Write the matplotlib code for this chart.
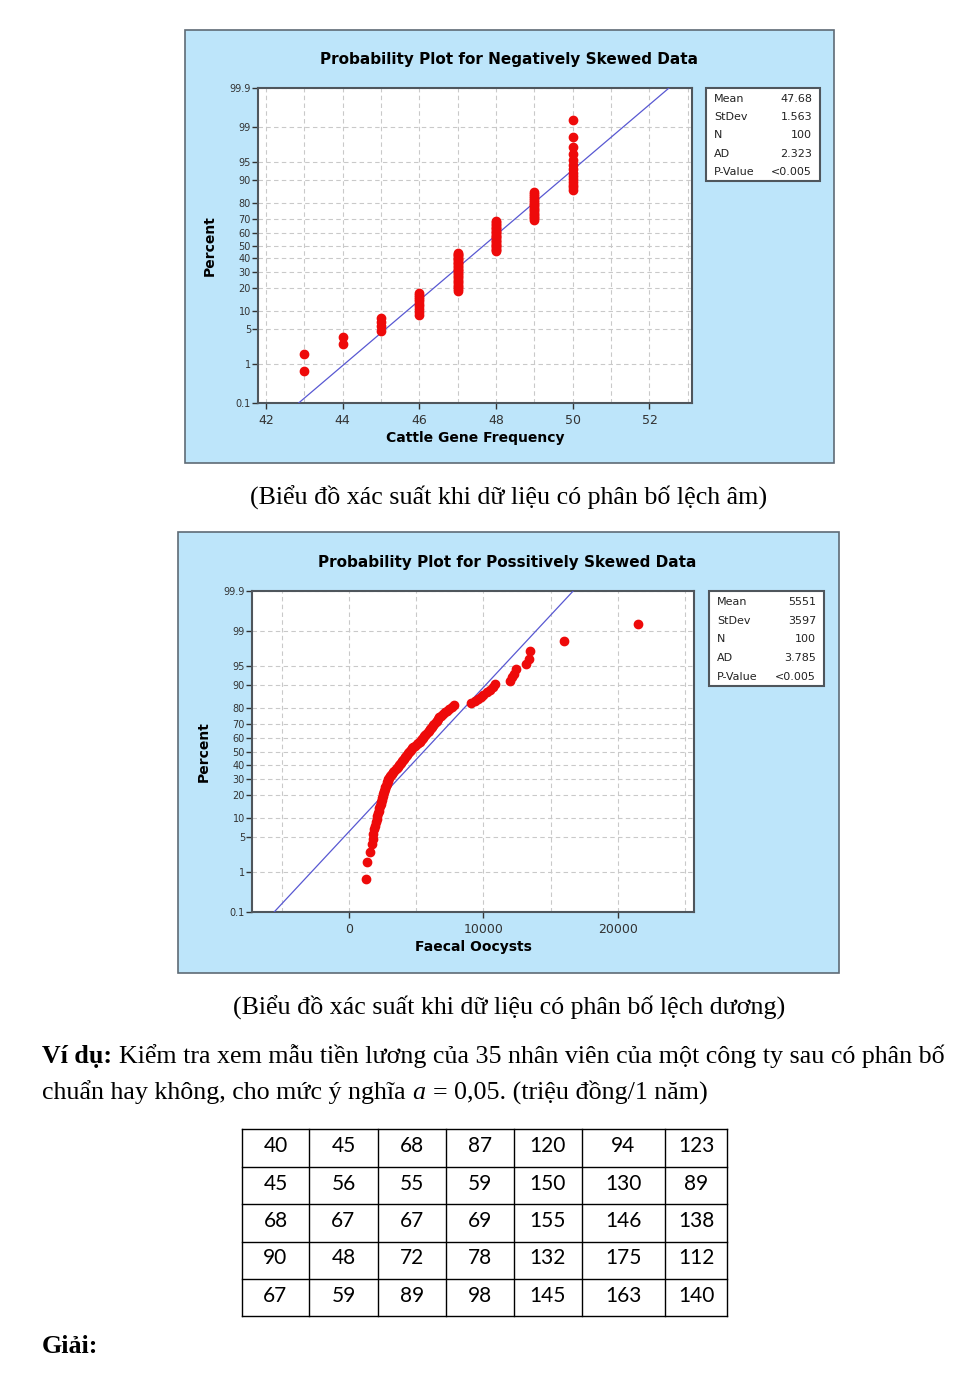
import matplotlib
matplotlib.use("Agg")
import matplotlib.pyplot as plt
import numpy as np
from statistics import NormalDist
from matplotlib.patches import Rectangle
from matplotlib.ticker import FixedLocator, MultipleLocator

# ---- data ----
neg_values = [43, 44, 45, 46, 47, 48, 49, 50]
neg_counts = [2, 2, 4, 10, 27, 24, 17, 14]
neg_mean, neg_sd = 47.68, 1.563

pos_values = [
    1240, 1360, 1590, 1690, 1750, 1810, 1870, 1940, 2010, 2070,
    2110, 2160, 2210, 2260, 2310, 2350, 2390, 2430, 2460, 2500,
    2540, 2570, 2610, 2650, 2690, 2740, 2790, 2840, 2890, 2935,
    2990, 3040, 3090, 3180, 3280, 3380, 3460, 3540, 3630, 3710,
    3790, 3870, 3960, 4040, 4110, 4180, 4250, 4320, 4390, 4450,
    4520, 4590, 4660, 4780, 4900, 5030, 5150, 5270, 5350, 5430,
    5510, 5590, 5670, 5750, 5840, 5930, 6020, 6100, 6180, 6260,
    6350, 6440, 6530, 6620, 6720, 6820, 7000, 7150, 7300, 7450,
    7650, 7800, 9100, 9400, 9600, 9800, 10000, 10250, 10450, 10700,
    10850, 12000, 12100, 12300, 12420, 13150, 13350, 13480, 16010, 21490]
pos_mean, pos_sd = 5551, 3597

stat_names = ["Mean", "StDev", "N", "AD", "P-Value"]
neg_stats = ["47.68", "1.563", "100", "2.323", "<0.005"]
pos_stats = ["5551", "3597", "100", "3.785", "<0.005"]

pct_ticks = [0.1, 1, 5, 10, 20, 30, 40, 50, 60, 70, 80, 90, 95, 99, 99.9]
pct_labels = ["0.1", "1", "5", "10", "20", "30", "40", "50", "60", "70", "80", "90", "95", "99", "99.9"]

table_rows = [
    [40, 45, 68, 87, 120, 94, 123],
    [45, 56, 55, 59, 150, 130, 89],
    [68, 67, 67, 69, 155, 146, 138],
    [90, 48, 72, 78, 132, 175, 112],
    [67, 59, 89, 98, 145, 163, 140],
]

caption1 = "(Biểu đồ xác suất khi dữ liệu có phân bố lệch âm)"
caption2 = "(Biểu đồ xác suất khi dữ liệu có phân bố lệch dương)"

W, H = 970, 1374
PANEL = "#bde5fa"
RED = "#ee0a0a"
LINE = "#5858d2"

nd = NormalDist()
_ppf = np.vectorize(nd.inv_cdf, otypes=[float])
_cdf = np.vectorize(nd.cdf, otypes=[float])


def fwd(p):
    p = np.clip(np.asarray(p, dtype=float) / 100.0, 1e-7, 1 - 1e-7)
    return _ppf(p)


def inv(z):
    return _cdf(np.asarray(z, dtype=float)) * 100.0


fig = plt.figure(figsize=(W / 100, H / 100), dpi=100)

# page layer in pixel coordinates
page = fig.add_axes([0, 0, 1, 1], zorder=0)
page.set_xlim(0, W)
page.set_ylim(H, 0)
page.axis("off")


def prob_plot(rect, panel, data, mean, sd, title, title_x, xlabel, stats, box,
              xlim, major, minor, xticklabels):
    px0, py0, px1, py1 = panel
    page.add_patch(Rectangle((px0, py0), px1 - px0, py1 - py0, facecolor=PANEL,
                             edgecolor="#5f6b75", lw=1.2))
    l, t, r, b = rect
    ax = fig.add_axes([l / W, 1 - b / H, (r - l) / W, (b - t) / H], zorder=2)
    ax.set_yscale("function", functions=(fwd, inv))
    ax.set_ylim(0.1, 99.9)
    ax.set_xlim(*xlim)

    data = np.sort(np.asarray(data, dtype=float))
    n = len(data)
    ranks = (np.arange(1, n + 1) - 0.3) / (n + 0.4) * 100
    ax.plot(data, ranks, "o", color=RED, markersize=6, mec=RED, zorder=4, clip_on=False)

    # fitted normal line from the mean / stdev in the box
    p_line = np.array([0.1, 99.9])
    ax.plot(mean + sd * fwd(p_line), p_line, color=LINE, lw=0.9, zorder=3)

    ax.yaxis.set_major_locator(FixedLocator(pct_ticks))
    ax.set_yticklabels(pct_labels)
    ax.yaxis.set_minor_locator(FixedLocator([]))
    ax.xaxis.set_major_locator(FixedLocator(major))
    ax.set_xticklabels(xticklabels)
    ax.xaxis.set_minor_locator(MultipleLocator(minor))
    ax.tick_params(axis="y", which="major", length=4, width=1, pad=1,
                   labelsize=7, colors="#333333")
    ax.tick_params(axis="x", which="major", length=4, width=1, pad=4,
                   labelsize=9, colors="#333333")
    ax.tick_params(axis="x", which="minor", length=0)
    ax.grid(True, axis="x", which="both", ls=(0, (4, 3)), color="#c9c9c9", lw=0.8)
    ax.grid(True, axis="y", which="major", ls=(0, (4, 3)), color="#c9c9c9", lw=0.8)
    for s in ax.spines.values():
        s.set_color("#4f565c")
        s.set_linewidth(1.5)

    ax.set_title(title, fontsize=11, fontweight="bold", x=title_x, pad=17)
    ax.set_ylabel("Percent", fontsize=10, fontweight="bold")
    ax.yaxis.set_label_coords(-41 / (r - l), 0.5)
    ax.set_xlabel(xlabel, fontsize=10, fontweight="bold")
    ax.xaxis.set_label_coords(0.5, -28 / (b - t))

    bx0, by0, bx1, by1 = box
    page.add_patch(Rectangle((bx0, by0), bx1 - bx0, by1 - by0, facecolor="white",
                             edgecolor="#4f565c", lw=1.5))
    step = (by1 - by0 - 20) / 4
    for k, (nm, val) in enumerate(zip(stat_names, stats)):
        yy = by0 + 11 + k * step
        page.text(bx0 + 8, yy, nm, fontsize=8, va="center", ha="left", color="#222222")
        page.text(bx1 - 8, yy, val, fontsize=8, va="center", ha="right", color="#222222")
    return ax


ax1 = prob_plot((258, 88, 692, 403), (185, 30, 834, 463),
                np.repeat(neg_values, neg_counts), neg_mean, neg_sd,
                "Probability Plot for Negatively Skewed Data", (509 - 258) / 434,
                "Cattle Gene Frequency", neg_stats, (706, 88, 820, 181),
                (41.79, 53.11), [42, 44, 46, 48, 50, 52], 1,
                ["42", "44", "46", "48", "50", "52"])

ax2 = prob_plot((252, 591, 694, 912), (178, 532, 839, 973),
                pos_values, pos_mean, pos_sd,
                "Probability Plot for Possitively Skewed Data", (507 - 252) / 442,
                "Faecal Oocysts", pos_stats, (709, 591, 824, 686),
                (-7212, 25651), [0, 10000, 20000], 5000,
                ["0", "10000", "20000"])

serif = "Liberation Serif"
FS = 18.7
page.text(509, 498, caption1, fontsize=FS, family=serif, ha="center", va="center")
page.text(509, 1008, caption2, fontsize=FS, family=serif, ha="center", va="center")

# paragraph with mixed styles
renderer = fig.canvas.get_renderer()


def put_runs(x, y, parts, size=FS, gap=6.5):
    for txt, kw in parts:
        t = page.text(x, y, txt, fontsize=size, family=serif, va="baseline", **kw)
        x += t.get_window_extent(renderer=renderer).width + gap
    return x


put_runs(42, 1063, [("Ví dụ:", {"fontweight": "bold"}),
                    ("Kiểm tra xem mẫu tiền lương của 35 nhân viên của một công ty sau có phân bố", {})])
put_runs(42, 1099, [("chuẩn hay không, cho mức ý nghĩa", {}),
                    ("a", {"style": "italic"}),
                    ("=", {}),
                    ("0,05. (triệu đồng/1 năm)", {})], gap=7)

# table
col_edges = [241.7, 309.3, 377.7, 445.7, 513.7, 581.7, 665.3, 727.3]
row_edges = [1129.3, 1166.7, 1204.3, 1241.7, 1279.3, 1316.0]
for xe in col_edges:
    page.plot([xe, xe], [row_edges[0], row_edges[-1]], color="black", lw=1)
for ye in row_edges:
    page.plot([col_edges[0], col_edges[-1]], [ye, ye], color="black", lw=1)
for i, row in enumerate(table_rows):
    for j, v in enumerate(row):
        page.text((col_edges[j] + col_edges[j + 1]) / 2, (row_edges[i] + row_edges[i + 1]) / 2 - 2,
                  str(v), fontsize=15, family="Lato", ha="center", va="center")

page.text(42, 1353, "Giải:", fontsize=FS, family=serif, fontweight="bold", va="baseline")

fig.savefig("out.png", dpi=100)
